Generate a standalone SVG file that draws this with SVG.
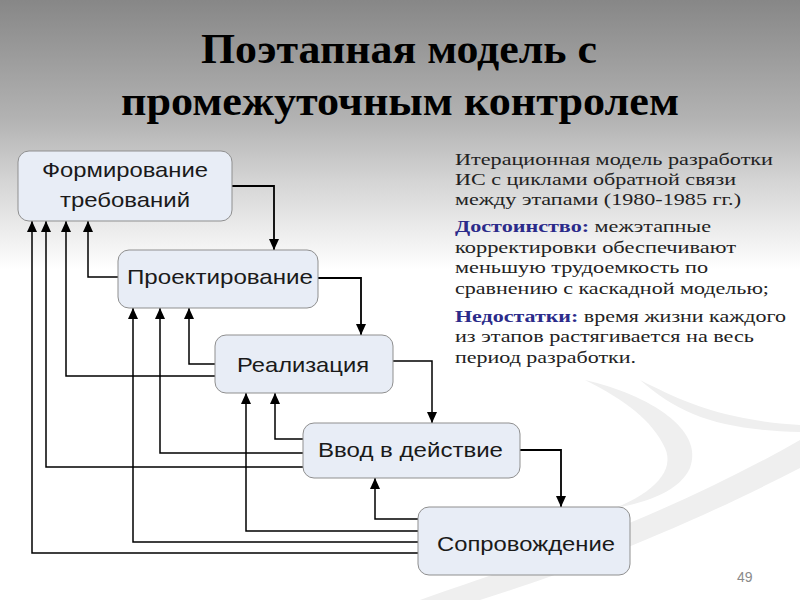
<svg xmlns="http://www.w3.org/2000/svg" width="800" height="600" viewBox="0 0 800 600">
<defs>
<linearGradient id="bg" x1="0" y1="0" x2="0" y2="600" gradientUnits="userSpaceOnUse">
<stop offset="0" stop-color="#878787"/>
<stop offset="0.2" stop-color="#b3b3b3"/>
<stop offset="0.3" stop-color="#d4d4d4"/>
<stop offset="0.45" stop-color="#ffffff"/>
<stop offset="1" stop-color="#ffffff"/>
</linearGradient>
<marker id="ah" markerUnits="userSpaceOnUse" markerWidth="10" markerHeight="12" viewBox="0 0 10 12" refX="5" refY="11" orient="auto-start-reverse">
<path d="M0,0 L10,0 L5,11 Z" fill="#000"/>
</marker>
<marker id="au" markerUnits="userSpaceOnUse" markerWidth="10" markerHeight="12" viewBox="0 0 10 12" refX="11" refY="5" orient="auto">
<path d="M0,0 L11,5 L0,10 Z" fill="#000"/>
</marker>
<style>
.box{fill:#e8edf6;stroke:#8f8f8f;stroke-width:1}
.bt{font-family:"Liberation Sans",Arial,sans-serif;font-size:21px;fill:#1a1a1a;text-anchor:start}
.ln{fill:none;stroke:#000;stroke-width:1.5;marker-end:url(#au)}
.fw{stroke-width:1.8}
.title{font-family:"Liberation Serif","Times New Roman",serif;font-weight:bold;font-size:42px;fill:#000}
.rt{font-family:"Liberation Serif","Times New Roman",serif;font-size:17px;fill:#222}
.bl{font-weight:bold;fill:#2b2b8a}
</style>
</defs>
<rect width="800" height="600" fill="url(#bg)"/>
<g id="swoosh" fill="#efefef">
<path d="M420,600 C520,565 660,520 800,440 L800,468 C670,535 560,575 480,600 Z"/>
<path d="M585,380 C650,395 705,430 690,468 C680,490 650,502 615,508 C655,492 675,470 665,448 C652,420 625,400 585,380 Z"/>
<path d="M640,380 C680,400 720,420 800,425 L800,432 C720,430 680,415 640,380 Z"/>
</g>
<g id="title">
<text class="title" x="201" y="63" textLength="396" lengthAdjust="spacingAndGlyphs">Поэтапная модель с</text>
<text class="title" x="121" y="115" textLength="558" lengthAdjust="spacingAndGlyphs">промежуточным контролем</text>
</g>
<g id="connectors">
<path class="ln fw" d="M232,186 H274 V250"/>
<path class="ln fw" d="M318,278 H361 V335"/>
<path class="ln" d="M393,361 H432 V423"/>
<path class="ln fw" d="M520,450 H561 V507"/>
<path class="ln" d="M118,277 H88 V221"/>
<path class="ln" d="M215,376 H66 V221"/>
<path class="ln" d="M215,364 H189 V308"/>
<path class="ln" d="M303,467 H46 V221"/>
<path class="ln" d="M303,453 H160 V308"/>
<path class="ln" d="M303,439 H275 V393"/>
<path class="ln" d="M418,553 H32 V221"/>
<path class="ln" d="M418,542 H133 V308"/>
<path class="ln" d="M418,531 H246 V393"/>
<path class="ln" d="M418,519 H375 V478"/>
</g>
<g id="n1">
<rect class="box" x="18" y="151" width="214" height="70" rx="11"/>
<text class="bt" x="42" y="177" textLength="166" lengthAdjust="spacingAndGlyphs">Формирование</text>
<text class="bt" x="60" y="207" textLength="130" lengthAdjust="spacingAndGlyphs">требований</text>
</g>
<g id="n2">
<rect class="box" x="118" y="250" width="200" height="58" rx="11"/>
<text class="bt" x="127" y="284" textLength="186" lengthAdjust="spacingAndGlyphs">Проектирование</text>
</g>
<g id="n3">
<rect class="box" x="215" y="335" width="178" height="58" rx="11"/>
<text class="bt" x="237" y="372" textLength="132" lengthAdjust="spacingAndGlyphs">Реализация</text>
</g>
<g id="n4">
<rect class="box" x="303" y="423" width="217" height="55" rx="11"/>
<text class="bt" x="318" y="457" textLength="185" lengthAdjust="spacingAndGlyphs">Ввод в действие</text>
</g>
<g id="n5">
<rect class="box" x="418" y="507" width="212" height="68" rx="11"/>
<text class="bt" x="437" y="551" textLength="178" lengthAdjust="spacingAndGlyphs">Сопровождение</text>
</g>
<g id="desc" xml:space="preserve">
<text class="rt" x="455" y="165" textLength="318" lengthAdjust="spacingAndGlyphs">Итерационная модель разработки</text>
<text class="rt" x="455" y="185" textLength="281" lengthAdjust="spacingAndGlyphs">ИС с циклами обратной связи</text>
<text class="rt" x="455" y="205" textLength="286" lengthAdjust="spacingAndGlyphs">между этапами (1980-1985 гг.)</text>
<text class="rt" x="455" y="232" textLength="256" lengthAdjust="spacingAndGlyphs"><tspan class="bl">Достоинство:</tspan> межэтапные</text>
<text class="rt" x="455" y="253" textLength="281" lengthAdjust="spacingAndGlyphs">корректировки  обеспечивают</text>
<text class="rt" x="455" y="273" textLength="253" lengthAdjust="spacingAndGlyphs">меньшую трудоемкость по</text>
<text class="rt" x="455" y="294" textLength="314" lengthAdjust="spacingAndGlyphs">сравнению с каскадной моделью;</text>
<text class="rt" x="455" y="322" textLength="331" lengthAdjust="spacingAndGlyphs"><tspan class="bl">Недостатки:</tspan> время жизни каждого</text>
<text class="rt" x="455" y="342" textLength="299" lengthAdjust="spacingAndGlyphs">из этапов растягивается на весь</text>
<text class="rt" x="455" y="363" textLength="181" lengthAdjust="spacingAndGlyphs">период разработки.</text>
</g>
<text x="737" y="582" font-family="'Liberation Sans',Arial,sans-serif" font-size="14" fill="#8a8a8a">49</text>
</svg>
